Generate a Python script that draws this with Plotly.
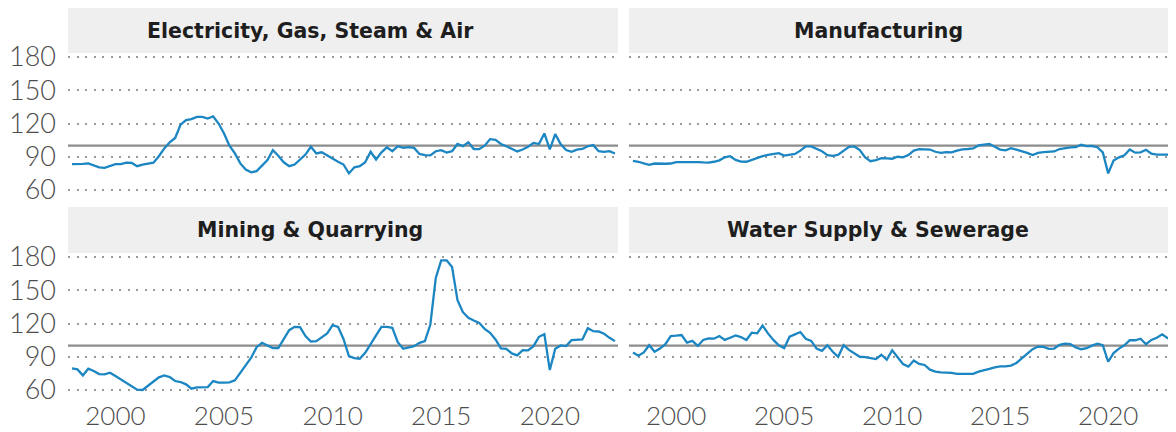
import plotly.graph_objects as go
import pandas as pd

# ---------------- data ----------------
periods = pd.period_range("1998Q1", "2023Q1", freq="Q")
quarters = [p.year + (p.quarter - 1) / 4 for p in periods]

panel_titles = ["Electricity, Gas, Steam & Air", "Manufacturing",
                "Mining & Quarrying", "Water Supply & Sewerage"]

electricity = [83.4, 83.2, 83.5, 84.0, 82.5, 80.5, 80.0, 82.0, 83.4, 83.4,
               84.6, 84.4, 81.5, 82.8, 83.5, 84.6, 90.5, 97.5, 103, 107,
               119, 123, 124, 126, 126, 124.5, 126.5, 120, 111, 100,
               93, 84, 78.5, 76, 77, 82, 87, 96, 91, 85,
               81.5, 83, 87.5, 92, 99, 93, 94, 91, 88, 85.5,
               83, 75, 80.5, 81.5, 85, 94.5, 87.5, 94, 98.5, 95,
               99.5, 98, 98.7, 98, 92.5, 91.5, 91.2, 95, 96, 93.8,
               95, 101.5, 99.6, 103, 97, 96.9, 100, 105.9, 105.2, 101.5,
               99.5, 97, 94.8, 96.5, 99, 102.5, 101.5, 111, 96.6, 110.4,
               101.5, 96, 94.5, 96.5, 97, 99.5, 100.5, 95, 94.5, 95,
               93]

manufacturing = [86.3, 85.5, 84, 82.7, 83.9, 83.6, 83.7, 83.9, 85.1, 85.1,
                 85.2, 85.4, 85.1, 84.9, 84.8, 85.5, 86.8, 89.5, 90.5, 87.2,
                 85.6, 85.5, 87.3, 89, 90.5, 91.7, 92.6, 93.2, 91, 91.5,
                 92.5, 95.5, 99.4, 99.4, 97, 95, 91.5, 90.8, 91.8, 95.5,
                 99, 99.3, 96, 89.5, 86, 87, 88.8, 88.5, 88.2, 90,
                 89.5, 91.5, 95.5, 96.8, 96.5, 96.5, 94.5, 93.5, 94.2, 94,
                 95.5, 96.7, 97, 97.5, 100.2, 101, 101.5, 99, 96.5, 95.8,
                 97.8, 96.5, 95.3, 93.5, 91.5, 93.5, 94.2, 94.4, 94.8, 97,
                 98, 98.4, 98.8, 100.8, 99.6, 99.7, 98.6, 94, 75, 86.5,
                 89.5, 91.3, 96.5, 93.7, 94, 96.3, 92.8, 91.9, 91.9, 91.9,
                 90.2]

mining = [79.5, 78.6, 73.2, 79.2, 77.1, 74.4, 74.1, 75.6, 72.6, 69.6,
          66.6, 63.6, 60.3, 60, 63.6, 67.2, 71.4, 73.2, 71.7, 68.1,
          67.2, 65.1, 61.2, 62.4, 62.7, 62.7, 68.1, 66.6, 66.6, 66.9,
          68.7, 75.6, 83.1, 89.1, 98.7, 102.6, 100.2, 97.8, 97.8, 105.6,
          114, 117, 116.7, 108.6, 103.8, 104.1, 107.7, 111, 118.5, 117,
          106, 90.6, 88.8, 88.2, 93.6, 102, 109.2, 117, 117, 116.1,
          103.2, 97.2, 98.4, 99.6, 102.6, 104.1, 119.1, 161.1, 177, 177,
          171, 141, 130.2, 125.1, 122.7, 120.6, 115.2, 111.6, 105.6, 97.5,
          97.2, 93, 91.2, 96, 95.7, 99.6, 108, 110.4, 78, 97.2,
          100.2, 99.6, 105, 105.6, 105.6, 115.8, 113.1, 112.8, 110.7, 107.1,
          104.1]

water = [93.9, 90.9, 93.9, 100.4, 94.5, 97.4, 101.3, 108.7, 109, 109.6,
         102.8, 104.3, 99.8, 105.2, 106.6, 106.3, 108.7, 105.2, 107.2, 109.3,
         107.8, 105.2, 111.7, 111.1, 118.2, 111.1, 105.2, 100.4, 97.7, 108.1,
         110.2, 112.3, 106.3, 104.3, 97.4, 95.3, 100.4, 94.5, 90, 100.4,
         96.2, 93.3, 90, 89.7, 88.8, 87.9, 91.8, 87.3, 95.9, 89.4,
         83.5, 81.1, 86.7, 83.5, 82.6, 78.4, 76.6, 76, 76, 75.4,
         74.6, 74.6, 74, 74.6, 76.6, 77.5, 79, 80.5, 81.4, 81.4,
         82, 84.4, 88.5, 93, 96.8, 99.2, 98.9, 97.1, 97.4, 100.7,
         101.9, 101.3, 98.3, 96.8, 97.7, 100, 101.8, 100.4, 85.5, 93.3,
         97.4, 100.4, 104.9, 104.9, 106.3, 101.3, 105.2, 107.2, 110.2, 106.9,
         106.9]

series = [electricity, manufacturing, mining, water]
reference_level = 100
y_ticks = [60, 90, 120, 150, 180]
x_ticks = [2000, 2005, 2010, 2015, 2020]

# ---------------- layout geometry (page has an 8px body margin) ----------------
W, H = 1168, 424
x_px = [(60, 610), (621, 1168)]
y_px = [(45, 190), (245, 390)]
strip_px = [(0, 45), (199, 245)]
title_px = [302, 870]

x_doms = [(a / W, b / W) for a, b in x_px]
y_doms = [(1 - b / H, 1 - a / H) for a, b in y_px]
x_range = [1997.816, 2023.14]
y_range = [52.8, 183.6]

BLUE = "#1b86c2"
GRID = "#9a9a9a"
REFC = "#8c8c8c"
STRIP = "#efefef"
TICKC = "#4d4d4d"

fig = go.Figure()
layout = dict(
    width=W, height=H, margin=dict(l=0, r=0, t=0, b=0),
    paper_bgcolor="white", plot_bgcolor="white", showlegend=False,
    font=dict(family="Lato", color=TICKC),
)
shapes, annotations = [], []

for k in range(4):
    row, col = divmod(k, 2)
    n = "" if k == 0 else str(k + 1)
    xa, ya = "x" + n, "y" + n
    fig.add_trace(go.Scatter(x=quarters, y=series[k], mode="lines",
                             line=dict(color=BLUE, width=2.3),
                             xaxis=xa, yaxis=ya, hoverinfo="skip"))
    layout["xaxis" + n] = dict(
        domain=x_doms[col], range=x_range, showgrid=False, zeroline=False,
        showline=False, tickvals=x_ticks, ticks="",
        showticklabels=(row == 1),
        tickfont=dict(size=26, color=TICKC, family="Lato", weight=300),
        ticklabelstandoff=0, anchor=ya, automargin=False,
    )
    layout["yaxis" + n] = dict(
        domain=y_doms[row], range=y_range, tickvals=y_ticks, showgrid=True,
        gridcolor=GRID, gridwidth=1.6, griddash="2px,6.5px", zeroline=False,
        showline=False, ticks="", showticklabels=(col == 0),
        tickfont=dict(size=27, color=TICKC, family="Lato", weight=300),
        ticklabelstandoff=11, anchor=xa, automargin=False,
    )
    shapes.append(dict(type="line", xref=xa + " domain", yref=ya,
                       x0=0, x1=1, y0=reference_level, y1=reference_level,
                       line=dict(color=REFC, width=2.2), layer="below"))
    s0, s1 = strip_px[row]
    shapes.append(dict(type="rect", xref="paper", yref="paper",
                       x0=x_doms[col][0], x1=x_doms[col][1],
                       y0=1 - s1 / H, y1=1 - s0 / H,
                       fillcolor=STRIP, line=dict(width=0), layer="below"))
    annotations.append(dict(text=panel_titles[k], xref="paper", yref="paper",
                            x=title_px[col] / W, y=1 - (s0 + s1) / 2 / H,
                            xanchor="center", yanchor="middle", showarrow=False,
                            font=dict(size=20.5, color="#1e1e1e",
                                      family="DejaVu Sans", weight=700)))

layout["shapes"] = shapes
layout["annotations"] = annotations
fig.update_layout(**layout)
fig.write_html("out.html")
